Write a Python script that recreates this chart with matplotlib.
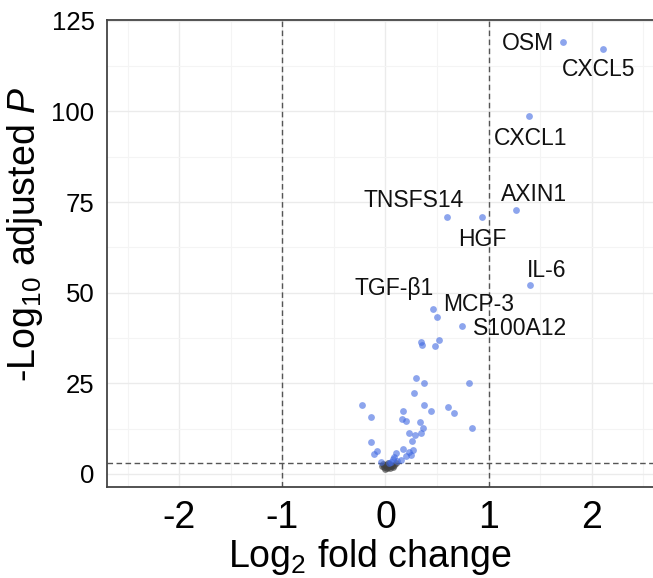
import matplotlib
matplotlib.use("Agg")
import matplotlib.pyplot as plt
import numpy as np

plt.rcParams['font.family'] = ['Liberation Sans', 'DejaVu Sans']
plt.rcParams['mathtext.fontset'] = 'custom'
plt.rcParams['mathtext.rm'] = 'Liberation Sans'
plt.rcParams['mathtext.it'] = 'Liberation Sans:italic'
plt.rcParams['axes.unicode_minus'] = False

# ---- data ----
label_genes = ["OSM", "CXCL5", "CXCL1", "AXIN1", "TNSFS14", "HGF", "IL-6",
               "TGF-β1", "MCP-3", "S100A12"]
label_x = [1.72, 2.11, 1.39, 1.27, 0.60, 0.94, 1.40, 0.46, 0.50, 0.74]
label_y = [119.0, 117.3, 98.6, 72.8, 70.9, 70.9, 52.2, 45.6, 43.4, 40.9]

sig_x = [0.34, 0.35, 0.48, 0.52,
         -0.23, -0.14, -0.14, -0.085, -0.11, -0.04,
         0.30, 0.37, 0.28, 0.37, 0.17, 0.44, 0.61, 0.66, 0.81, 0.84,
         0.16, 0.20, 0.33, 0.36, 0.34, 0.29, 0.23, 0.26, 0.17, 0.27,
         0.23, 0.25, 0.20, 0.15, 0.10, 0.085, 0.07, 0.05, 0.11, 0.03]
sig_y = [36.5, 35.7, 35.4, 37.0,
         19.1, 15.7, 8.9, 6.3, 5.5, 3.3,
         26.4, 25.1, 22.2, 19.1, 17.3, 17.4, 18.6, 16.8, 25.2, 12.8,
         15.1, 14.6, 14.2, 12.8, 11.2, 10.7, 11.3, 9.1, 7.0, 6.5,
         6.1, 5.2, 4.9, 3.8, 5.7, 4.8, 4.0, 3.4, 3.7, 3.0]

ns_x = [-0.03, -0.01, 0.0, 0.01, 0.02, 0.03, 0.04, 0.05, 0.06, 0.08,
        0.10, -0.02, 0.0, 0.02, 0.04, 0.07]
ns_y = [2.2, 1.8, 2.6, 1.6, 2.0, 2.8, 1.7, 2.4, 2.1, 2.5,
        2.9, 2.7, 1.5, 2.9, 2.3, 1.9]

x_ticks = [-2, -1, 0, 1, 2]
y_ticks = [0, 25, 50, 75, 100, 125]
fc_cut = 1.0
p_cut = 3.0

# label offsets (points)
label_offsets = {
    "OSM": (-25, -1), "CXCL5": (-3, -15), "CXCL1": (1, -16),
    "AXIN1": (13, 11.5), "TNSFS14": (-24, 11.5), "HGF": (0, -16),
    "IL-6": (12, 10), "TGF-β1": (-28, 14.4), "MCP-3": (30, 9),
    "S100A12": (42, -2),
}

W, H = 653, 578
ax_w_px = (W - 107) + 13
ax_h_px = 487 - 20
fig = plt.figure(figsize=(W / 100, H / 100), dpi=100)
ax = fig.add_axes([107 / W, (H - 487) / H, ax_w_px / W, ax_h_px / H])

ax.set_xlim(-2.70, 2.72)
ax.set_ylim(-3.6, 125.2)

ax.set_xticks(x_ticks)
ax.set_yticks(y_ticks)
ax.set_xticks([-2.5, -1.5, -0.5, 0.5, 1.5, 2.5], minor=True)
ax.set_yticks([12.5, 37.5, 62.5, 87.5, 112.5], minor=True)
ax.grid(which='major', color='#ebebeb', linewidth=1.0, zorder=0)
ax.grid(which='minor', color='#f4f4f4', linewidth=0.8, zorder=0)
ax.set_axisbelow(True)

ax.tick_params(axis='both', which='both', length=0)
ax.tick_params(axis='x', labelsize=27, pad=9)
ax.tick_params(axis='y', labelsize=18.5, pad=9)

for s in ['top', 'left', 'bottom']:
    ax.spines[s].set_color('#444444')
    ax.spines[s].set_linewidth(1.3)
ax.spines['right'].set_visible(False)

ax.axvline(-fc_cut, color='#555555', linestyle=(0, (4, 2.5)), linewidth=1.0, zorder=1)
ax.axvline(fc_cut, color='#555555', linestyle=(0, (4, 2.5)), linewidth=1.0, zorder=1)
ax.axhline(p_cut, color='#555555', linestyle=(0, (4, 2.5)), linewidth=1.0, zorder=1)

ax.scatter(ns_x, ns_y, s=24, color='#404040', alpha=0.65, linewidths=0, zorder=2)
ax.scatter(sig_x, sig_y, s=24, color='#4169E1', alpha=0.6, linewidths=0, zorder=3)
ax.scatter(label_x, label_y, s=24, color='#4169E1', alpha=0.6, linewidths=0, zorder=3)

for g, x, y in zip(label_genes, label_x, label_y):
    dx, dy = label_offsets[g]
    ax.annotate(g, (x, y), xytext=(dx, dy), textcoords='offset points',
                ha='center', va='center', fontsize=16.5, color='#111111', zorder=4)

ax.set_xlabel('Log$_2$ fold change', fontsize=27)
ax.set_ylabel('-Log$_{10}$ adjusted $\\it{P}$', fontsize=27)
ax.xaxis.set_label_coords((370 - 107) / ax_w_px, (487 - 537) / ax_h_px)
ax.yaxis.set_label_coords((45 - 107) / ax_w_px, (487 - 234) / ax_h_px)

fig.savefig('out.png', dpi=100)
